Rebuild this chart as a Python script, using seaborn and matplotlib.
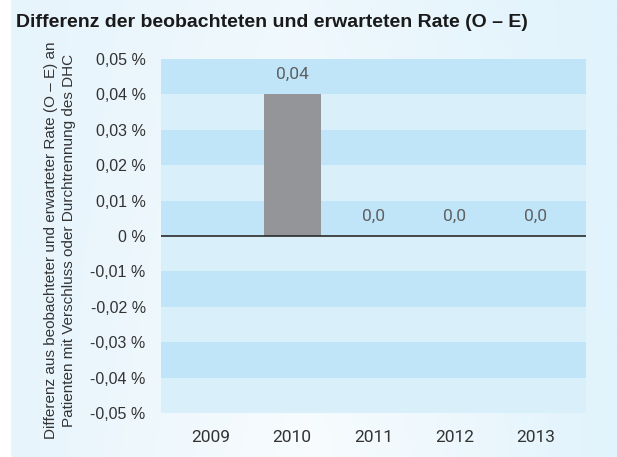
import numpy as np
import pandas as pd
import matplotlib
matplotlib.use("Agg")
import matplotlib.pyplot as plt
import seaborn as sns

# ---- data ----
years = ["2009", "2010", "2011", "2012", "2013"]
values = [np.nan, 0.04, 0.0, 0.0, 0.0]          # percent
value_labels = ["", "0,04", "0,0", "0,0", "0,0"]
ytick_values = [0.05, 0.04, 0.03, 0.02, 0.01, 0.0, -0.01, -0.02, -0.03, -0.04, -0.05]
title = "Differenz der beobachteten und erwarteten Rate (O – E)"
ylabel = "Differenz aus beobachteter und erwarteter Rate (O – E) an\nPatienten mit Verschluss oder Durchtrennung des DHC"

df = pd.DataFrame({"Jahr": years, "Wert": values})

sns.set_theme(style="white")
plt.rcParams["font.family"] = ["Liberation Sans", "DejaVu Sans"]

W, H = 617, 457
fig = plt.figure(figsize=(W / 100, H / 100), dpi=100)

# background gradient
bg = fig.add_axes([0, 0, 1, 1], zorder=-10)
xs = np.linspace(0, 1, 300)
ys = np.linspace(0, 1, 200)
X, Y = np.meshgrid(xs, ys)
c_left = np.array([0xe6, 0xf4, 0xfc]) / 255
c_mid = np.array([0xf8, 0xfc, 0xfe]) / 255
c_right = np.array([0xe1, 0xf3, 0xfc]) / 255
t = np.clip(X, 0, 1)
w_mid = np.clip(1 - np.abs(t - 0.5) / 0.5, 0, 1) * (0.55 + 0.45 * Y)
w_side = 1 - w_mid
side = np.where(t[..., None] < 0.5, c_left, c_right)
img = side * w_side[..., None] + c_mid * w_mid[..., None]
bg.imshow(img, aspect="auto", extent=[0, 1, 0, 1], origin="upper")
bg.axvspan(0, 10 / W, color="white")
bg.set_xlim(0, 1)
bg.set_ylim(0, 1)
bg.axis("off")

left, right = 161 / W, 585.7 / W
bottom, top = 1 - 413 / H, 1 - 59 / H
ax = fig.add_axes([left, bottom, right - left, top - bottom])
ax.patch.set_alpha(0)

# bands
dark = "#c1e5f8"
light = "#d9f0fb"
for k in range(-5, 5):
    ax.axhspan(k * 0.01, (k + 1) * 0.01, color=dark if k % 2 == 0 else light, lw=0, zorder=0)

sns.barplot(data=df, x="Jahr", y="Wert", order=years, color="#939598",
            saturation=1, width=0.7, ax=ax, zorder=2, linewidth=0, edgecolor="none")

ax.axhline(0, color="#2a2a2a", lw=1.2, zorder=3)

for i, (v, lab) in enumerate(zip(values, value_labels)):
    if lab:
        ax.annotate(lab, (i, v), xytext=(0, 14.5), textcoords="offset points",
                    ha="center", va="center", color="#5f6062", fontsize=12.5,
                    family=["Roboto", "DejaVu Sans"])

ax.set_xlim(-0.615, 4.615)
ax.set_ylim(-0.05, 0.05)

def fmt(v):
    if abs(v) < 1e-12:
        return "0 %"
    s = f"{v:.2f}".replace(".", ",")
    return s + " %"

ax.set_yticks(ytick_values)
ax.set_yticklabels([fmt(v) for v in ytick_values], fontsize=11.5, color="#333333",
                   family=["Liberation Sans Narrow", "Liberation Sans", "DejaVu Sans"])
ax.set_xticks(range(len(years)))
ax.set_xticklabels(years, fontsize=12.5, color="#333333", family=["Roboto", "DejaVu Sans"])
ax.tick_params(axis="y", length=0, pad=11)
ax.tick_params(axis="x", length=0, pad=12)
ax.set_xlabel("")
ax.set_ylabel("")
for s in ax.spines.values():
    s.set_visible(False)
ax.grid(False)

fig.text(16 / W, 1 - 27 / H, title, fontsize=14.0, fontweight="bold", color="#1a1a1a",
         ha="left", va="baseline")
fig.text(60 / W, 1 - 240 / H, ylabel, rotation=90, ha="center", va="center",
         multialignment="center", fontsize=11.0, color="#333333", linespacing=1.4,
         family=["Liberation Sans Narrow", "Liberation Sans", "DejaVu Sans"])

fig.savefig("out.png", dpi=100)
